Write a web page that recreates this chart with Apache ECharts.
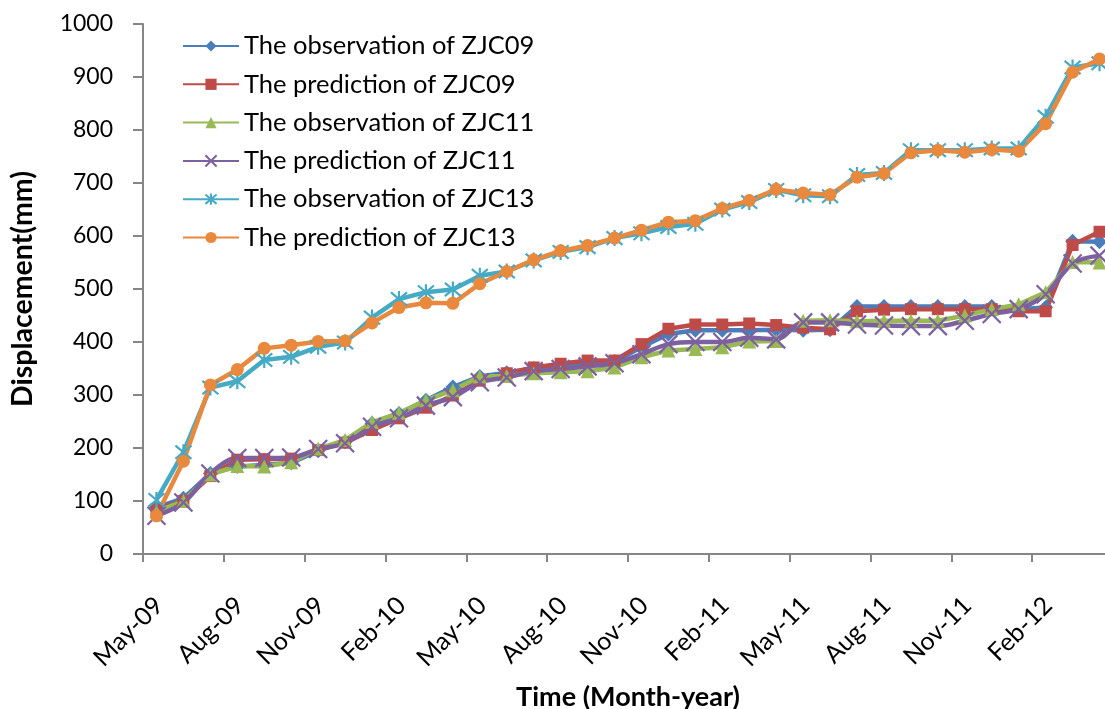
<!DOCTYPE html>
<html>
<head>
<meta charset="utf-8">
<script src="https://cdn.jsdelivr.net/npm/echarts@6/dist/echarts.min.js"></script>
<style>
html, body { margin: 0; padding: 0; background: #fff; }
#chart { width: 1105px; height: 709px; }
</style>
</head>
<body>
<div id="chart"></div>
<script>
// monthly readings, May-09 .. Apr-12
var months = ['May-09','Jun-09','Jul-09','Aug-09','Sep-09','Oct-09','Nov-09','Dec-09','Jan-10','Feb-10','Mar-10','Apr-10',
              'May-10','Jun-10','Jul-10','Aug-10','Sep-10','Oct-10','Nov-10','Dec-10','Jan-11','Feb-11','Mar-11','Apr-11',
              'May-11','Jun-11','Jul-11','Aug-11','Sep-11','Oct-11','Nov-11','Dec-11','Jan-12','Feb-12','Mar-12','Apr-12'];

var obsZJC09 = [88,105,152,165,168,172,195,212,246,265,290,315,335,342,350,354,359,363,390,415,422,422,422,423,422,423,467,467,467,467,467,467,462,465,590,589];
var preZJC09 = [84,100,147,178,179,180,196,210,234,256,276,299,327,341,352,359,365,365,396,425,433,433,435,432,427,424,458,461,462,462,462,462,458,458,583,608];
var obsZJC11 = [80,100,150,166,165,173,199,215,249,266,290,309,335,336,341,343,345,352,371,384,387,390,401,402,440,441,439,440,440,440,450,462,471,494,551,550];
var preZJC11 = [72,97,152,181,181,182,198,209,240,256,280,296,324,333,345,349,354,360,377,396,400,400,408,405,437,437,433,431,430,430,440,453,462,490,548,563];
var obsZJC13 = [102,192,314,326,366,372,391,399,446,481,494,499,525,533,554,570,579,596,605,617,623,650,664,687,677,675,715,719,762,762,762,765,765,825,918,926];
var preZJC13 = [72,175,319,348,388,394,401,402,436,465,474,473,510,533,555,572,582,596,611,626,629,652,667,688,681,678,711,718,757,762,758,763,760,812,909,934];

var font = 'Lato';
var xMark = 'path://M0,0 L10,10 M10,0 L0,10';
var starMark = 'path://M0,0 L10,10 M10,0 L0,10 M5,-1 L5,11';

function line(name, data, color, symbol, size, extra) {
    var s = {
        name: name,
        type: 'line',
        data: data,
        symbol: symbol,
        symbolSize: size,
        showAllSymbol: true,
        lineStyle: { color: color, width: 4.5 },
        itemStyle: { color: color, borderColor: color, borderWidth: 0 }
    };
    if (extra) {
        for (var k in extra) s[k] = extra[k];
    }
    return s;
}

var chart = echarts.init(document.getElementById('chart'), null, { renderer: 'canvas' });
chart.setOption({
    animation: false,
    backgroundColor: '#fff',
    grid: { left: 143, top: 24, width: 970, bottom: 155, outerBoundsMode: 'none', containLabel: false },
    legend: {
        orient: 'vertical',
        left: 177,
        top: 28,
        itemWidth: 56,
        itemHeight: 14,
        itemGap: 12.3,
        textStyle: { fontFamily: font, fontSize: 25.5, color: '#000' },
        data: ['The observation of ZJC09','The prediction of ZJC09','The observation of ZJC11',
               'The prediction of ZJC11','The observation of ZJC13','The prediction of ZJC13']
    },
    xAxis: {
        type: 'category',
        data: months,
        boundaryGap: true,
        name: 'Time (Month-year)',
        nameLocation: 'middle',
        nameGap: 130,
        nameTextStyle: { fontFamily: font, fontSize: 27, fontWeight: 'bold', color: '#000' },
        axisLine: { lineStyle: { color: '#868686', width: 2 } },
        axisTick: { show: true, interval: 2, length: 8, inside: false, lineStyle: { color: '#868686', width: 2 } },
        axisLabel: { interval: 2, rotate: 45, margin: 32, verticalAlign: 'top', padding: [0, 9, 0, 0], fontFamily: font, fontSize: 25, color: '#000' },
        splitLine: { show: false }
    },
    yAxis: {
        type: 'value',
        min: 0,
        max: 1000,
        interval: 100,
        name: 'Displacement(mm)',
        nameLocation: 'middle',
        nameGap: 106,
        nameTextStyle: { fontFamily: font, fontSize: 28.5, fontWeight: 'bold', color: '#000' },
        axisLine: { show: true, lineStyle: { color: '#868686', width: 2 } },
        axisTick: { show: true, length: 10, lineStyle: { color: '#868686', width: 2 } },
        axisLabel: { margin: 30, fontFamily: font, fontSize: 23, color: '#000', formatter: function (v) { return String(v); } },
        splitLine: { show: false }
    },
    series: [
        line('The observation of ZJC09', obsZJC09, '#4A7EBB', 'diamond', 15),
        line('The prediction of ZJC09', preZJC09, '#BE4B48', 'rect', 12),
        line('The observation of ZJC11', obsZJC11, '#98B954', 'triangle', 14),
        line('The prediction of ZJC11', preZJC11, '#7D60A0', xMark, 18, {
            smooth: 0.35,
            itemStyle: { color: 'rgba(0,0,0,0)', borderColor: '#7D60A0', borderWidth: 2.2 }
        }),
        line('The observation of ZJC13', obsZJC13, '#46AAC5', starMark, 16, {
            itemStyle: { color: 'rgba(0,0,0,0)', borderColor: '#46AAC5', borderWidth: 2.2 }
        }),
        line('The prediction of ZJC13', preZJC13, '#E8893E', 'circle', 13)
    ]
});
</script>
</body>
</html>
